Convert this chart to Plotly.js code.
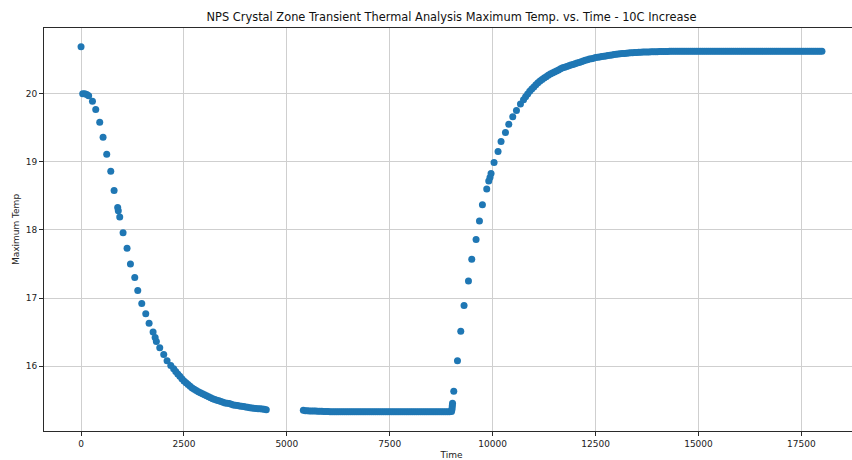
<!DOCTYPE html>
<html>
<head>
<meta charset="utf-8">
<script src="https://cdn.plot.ly/plotly-3.0.1.min.js"></script>
<style>
html, body { margin: 0; padding: 0; overflow: hidden; background: #ffffff; }
#chart { width: 867px; height: 460px; }
</style>
</head>
<body>
<div id="chart"></div>
<script>
// ---- Data ----
const timeDrop = [
  0, 40, 90, 140, 185, 277, 357, 454, 535, 624,
  722, 803, 890, 905, 940, 1021, 1118, 1200, 1305, 1378,
  1475, 1572, 1653, 1750, 1800, 1830, 1912, 2009, 2090, 2180,
  2250, 2300, 2350, 2400, 2450, 2500, 2550, 2600, 2650, 2700,
  2750, 2800, 2850, 2900, 2950, 3000, 3050, 3100, 3150, 3200,
  3250, 3300, 3350, 3400, 3450, 3500, 3550, 3600, 3650, 3700,
  3750, 3800, 3850, 3900, 3950, 4000, 4050, 4100, 4150, 4200,
  4250, 4300, 4350, 4400, 4450, 4500
];
const tempDrop = [
  20.69, 20.00, 20.00, 19.99, 19.97, 19.89, 19.77, 19.58, 19.36, 19.11,
  18.86, 18.58, 18.33, 18.28, 18.19, 17.96, 17.73, 17.50, 17.30, 17.11,
  16.92, 16.77, 16.63, 16.50, 16.42, 16.36, 16.27, 16.17, 16.08, 16.01,
  15.96, 15.92, 15.885, 15.85, 15.815, 15.78, 15.755, 15.73, 15.705, 15.68,
  15.66, 15.64, 15.625, 15.61, 15.595, 15.58, 15.565, 15.55, 15.535, 15.52,
  15.51, 15.50, 15.49, 15.48, 15.47, 15.46, 15.455, 15.45, 15.44, 15.43,
  15.425, 15.42, 15.415, 15.41, 15.405, 15.40, 15.395, 15.39, 15.385, 15.38,
  15.378, 15.375, 15.372, 15.37, 15.365, 15.36
];
const timeHold = [
  5400, 5450, 5500, 5550, 5600, 5650, 5700, 5750, 5800, 5850, 5900, 5950, 6000,
  6050, 6100, 6150, 6200, 6250, 6300, 6350, 6400, 6450, 6500,
  6550, 6600, 6650, 6700, 6750, 6800, 6850, 6900, 6950, 7000,
  7050, 7100, 7150, 7200, 7250, 7300, 7350, 7400, 7450, 7500,
  7550, 7600, 7650, 7700, 7750, 7800, 7850, 7900, 7950, 8000,
  8050, 8100, 8150, 8200, 8250, 8300, 8350, 8400, 8450, 8500,
  8550, 8600, 8650, 8700, 8750, 8800, 8850, 8900, 8950, 9000,
  9010, 9015, 9020, 9025
];
const tempHold = [
  15.35, 15.345, 15.343, 15.342, 15.341, 15.34, 15.34, 15.338, 15.337, 15.336, 15.335, 15.334, 15.333,
  15.33, 15.33, 15.329, 15.33, 15.33, 15.329, 15.33, 15.33, 15.33, 15.329,
  15.33, 15.329, 15.33, 15.33, 15.329, 15.33, 15.33, 15.33, 15.329, 15.33,
  15.33, 15.33, 15.329, 15.33, 15.33, 15.33, 15.329, 15.33, 15.33, 15.33,
  15.329, 15.33, 15.33, 15.33, 15.329, 15.33, 15.33, 15.33, 15.33, 15.329,
  15.33, 15.33, 15.329, 15.33, 15.33, 15.33, 15.329, 15.33, 15.33, 15.33,
  15.33, 15.329, 15.33, 15.33, 15.33, 15.329, 15.33, 15.33, 15.33, 15.335,
  15.36, 15.39, 15.42, 15.455
];
const timeRise = [
  9055, 9145, 9225, 9305, 9412, 9492, 9597, 9679, 9751, 9856,
  9905, 9935, 9961, 10034, 10131, 10204, 10311, 10391, 10488, 10578, 10675,
  10750, 10800, 10850, 10900, 10950, 11000, 11050, 11100, 11150, 11200,
  11250, 11300, 11350, 11400, 11450, 11500, 11550, 11600, 11650, 11700,
  11750, 11800, 11850, 11900, 11950, 12000, 12050, 12100, 12150, 12200,
  12250, 12300, 12350, 12400, 12450, 12500, 12550, 12600, 12650, 12700,
  12750, 12800, 12850, 12900, 12950, 13000, 13050, 13100, 13150, 13200,
  13250, 13300, 13350, 13400, 13450, 13500, 13550, 13600, 13650, 13700,
  13750, 13800, 13850, 13900, 13950, 14000, 14050, 14100, 14150, 14200,
  14250, 14300, 14350, 14400, 14450, 14500, 14550, 14600, 14650, 14700,
  14750, 14800, 14850, 14900, 14950, 15000, 15050, 15100, 15150, 15200,
  15250, 15300, 15350, 15400, 15450, 15500, 15550, 15600, 15650, 15700,
  15750, 15800, 15850, 15900, 15950, 16000, 16050, 16100, 16150, 16200,
  16250, 16300, 16350, 16400, 16450, 16500, 16550, 16600, 16650, 16700,
  16750, 16800, 16850, 16900, 16950, 17000, 17050, 17100, 17150, 17200,
  17250, 17300, 17350, 17400, 17450, 17500, 17550, 17600, 17650, 17700,
  17750, 17800, 17850, 17900, 17950, 18000
];
const tempRise = [
  15.63, 16.08, 16.51, 16.89, 17.25, 17.57, 17.86, 18.13, 18.37, 18.60,
  18.72, 18.77, 18.83, 18.99, 19.15, 19.30, 19.43, 19.55, 19.66, 19.755, 19.85,
  19.91, 19.955, 19.995, 20.035, 20.07, 20.10, 20.13, 20.16, 20.185, 20.21,
  20.23, 20.25, 20.27, 20.29, 20.305, 20.32, 20.335, 20.35, 20.365, 20.38,
  20.39, 20.40, 20.41, 20.42, 20.43, 20.44, 20.45, 20.46, 20.47, 20.48,
  20.49, 20.50, 20.51, 20.515, 20.52, 20.53, 20.535, 20.54, 20.545, 20.55,
  20.555, 20.56, 20.565, 20.57, 20.575, 20.58, 20.583, 20.586, 20.589, 20.592,
  20.595, 20.598, 20.60, 20.602, 20.604, 20.606, 20.608, 20.61, 20.611, 20.612,
  20.613, 20.614, 20.615, 20.616, 20.617, 20.618, 20.619, 20.62, 20.62, 20.621,
  20.621, 20.622, 20.622, 20.622, 20.623, 20.623, 20.623, 20.624, 20.624, 20.624,
  20.624, 20.625, 20.625, 20.625, 20.625, 20.625, 20.625, 20.625, 20.625, 20.625,
  20.625, 20.625, 20.625, 20.625, 20.625, 20.625, 20.625, 20.625, 20.625, 20.625,
  20.625, 20.625, 20.625, 20.625, 20.625, 20.625, 20.625, 20.625, 20.625, 20.625,
  20.624, 20.624, 20.624, 20.624, 20.624, 20.624, 20.624, 20.624, 20.624, 20.624,
  20.624, 20.624, 20.623, 20.623, 20.623, 20.623, 20.623, 20.623, 20.623, 20.623,
  20.623, 20.623, 20.623, 20.622, 20.622, 20.622, 20.622, 20.622, 20.622, 20.622,
  20.622, 20.622, 20.622, 20.622, 20.622, 20.622
];
const xTickVals = [0, 2500, 5000, 7500, 10000, 12500, 15000, 17500];
const xTickText = ['0', '2500', '5000', '7500', '10000', '12500', '15000', '17500'];
const yTickVals = [16, 17, 18, 19, 20];
const yTickText = ['16', '17', '18', '19', '20'];
const chartTitle = 'NPS Crystal Zone Transient Thermal Analysis Maximum Temp. vs. Time - 10C Increase';

// ---- Build the chart ----
const xs = timeDrop.concat(timeHold, timeRise);
const ys = tempDrop.concat(tempHold, tempRise);

const trace = {
  type: 'scatter',
  mode: 'markers',
  x: xs,
  y: ys,
  marker: { color: '#1f77b4', size: 7, line: { width: 0 } },
  hoverinfo: 'x+y'
};

const axisCommon = {
  showgrid: true,
  gridcolor: '#cfcfcf',
  gridwidth: 1,
  zeroline: false,
  showline: true,
  mirror: true,
  linecolor: '#2a2a2a',
  linewidth: 1,
  ticks: 'outside',
  ticklen: 4,
  tickwidth: 1,
  tickcolor: '#2a2a2a',
  automargin: false,
  tickfont: { family: 'DejaVu Sans', size: 9, color: '#222222' }
};

const layout = {
  width: 867,
  height: 460,
  margin: { l: 44, r: 8, t: 28, b: 29, pad: 0 },
  paper_bgcolor: '#ffffff',
  plot_bgcolor: '#ffffff',
  showlegend: false,
  font: { family: 'DejaVu Sans', size: 9, color: '#222222' },
  title: {
    text: chartTitle,
    font: { family: 'DejaVu Sans', size: 11.4, color: '#111111' },
    x: 0.5, xref: 'paper', xanchor: 'center',
    y: 1 - 17 / 460, yref: 'container', yanchor: 'middle'
  },
  xaxis: Object.assign({}, axisCommon, {
    range: [-900, 18900],
    tickmode: 'array',
    tickvals: xTickVals,
    ticktext: xTickText,
    title: { text: 'Time', font: { family: 'DejaVu Sans', size: 9, color: '#222222' }, standoff: 4 }
  }),
  yaxis: Object.assign({}, axisCommon, {
    range: [15.047, 20.965],
    tickmode: 'array',
    tickvals: yTickVals,
    ticktext: yTickText,
    title: { text: 'Maximum Temp', font: { family: 'DejaVu Sans', size: 9, color: '#222222' }, standoff: 4 }
  })
};

Plotly.newPlot('chart', [trace], layout, { staticPlot: true, displayModeBar: false });
</script>
</body>
</html>
